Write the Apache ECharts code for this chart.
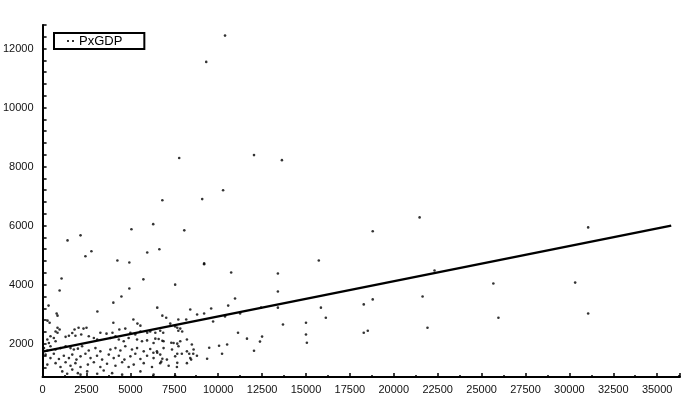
<!DOCTYPE html>
<html><head><meta charset="utf-8">
<script src="https://cdn.jsdelivr.net/npm/echarts@6/dist/echarts.min.js"></script>
<style>html,body{margin:0;padding:0;background:#fff}#c{width:700px;height:403px}</style>
</head><body><div id="c"></div>
<script>
// GDP (x) values of each point
const gdp = [
10390,9320,7780,12040,13630,10280,9090,
6820,6300,5060,8070,1420,2160,2440,2780,4260,4940,5960,6650,1080,5740,7550,4940,
9200,9200,10740,13400,13400,15730,15850,16130,6530,10960,10570,9600,9200,8800,8410,6820,7040,12440,13400,13690,15000,15000,15050,11250,10390,9710,7730,8180,7270,6130,6420,6700,6870,7670,7730,7950,6420,6820,7330,7670,11130,11640,12380,12500,12040,9490,10050,10510,10220,6310,6530,7670,7670,8350,8580,6760,6820,8460,9370,
21470,18800,22320,25670,21640,18800,18290,25960,21920,18290,18520,
31070,30330,31070,
970,4490,4030,340,3120,800,850,280,400,5170,4030,5400,5570,7550,7840,850,970,740,850,2050,2330,1820,2500,3290,3640,3980,4370,4710,5000,5280,5570,5960,
450,640,270,360,740,1310,1500,1690,1870,2200,2630,2920,3110,3860,4150,4340,4620,4900,5380,5660,5950,6320,6610,6890,7460,7840,8220,8500,
80,270,450,740,1020,1310,1590,1780,2010,2250,2630,3010,3290,3860,4150,4430,4710,5090,5380,5760,6130,6510,6890,7370,7740,8220,8600,
170,450,640,930,1210,1500,1690,1930,2160,2440,2730,3100,3390,3770,4050,4340,4660,5000,5280,5570,5950,6320,6700,7080,7550,7930,8410,8790,
270,740,1020,1310,1590,1870,2160,2580,2920,3290,3670,4150,4530,4900,5190,5760,6230,6700,7180,7650,8220,
1120,1400,1690,2010,2160,2540,3110,3480,3960,4530,5570,6320,7550
];
// Px (y) values of each point
const px = [
12440,11550,8290,8390,8220,7200,6900,
6860,6050,5880,5840,5500,5670,4960,5130,4820,4750,5090,5200,4210,4180,4000,3870,
4720,4690,4410,4380,3770,4820,3220,2880,3220,3530,3290,3190,3020,2990,3160,2950,2880,3220,3220,2650,2710,2310,2030,3020,2920,2750,2820,2820,2680,2410,2370,2440,2370,2540,2440,2410,2170,2100,2030,2000,2370,2170,2070,2240,1760,1860,1930,1970,1660,1690,1690,1660,1350,1660,1660,1390,1490,1460,1490,
6280,5810,4480,4040,3600,3500,3330,2880,2540,2370,2440,
5940,4070,3020,
3800,3600,3390,3290,3090,3020,2950,2780,2710,2820,2710,2680,2610,2580,2510,2540,2480,2410,2370,2540,2510,2480,2540,2370,2340,2370,2480,2510,2370,2310,2410,2370,
2250,2190,2140,2020,2080,2230,2270,2360,2270,2310,2250,2190,2140,2190,2250,2140,2080,2190,2140,2080,2110,2020,2160,2080,2020,2080,2140,1970,
1850,1770,1910,1800,1850,1910,1850,1800,1830,1910,1770,1850,1740,1800,1850,1770,1910,1800,1850,1740,1820,1740,1850,1800,1910,1740,1800,
1630,1510,1660,1480,1590,1510,1630,1460,1570,1660,1510,1590,1460,1630,1510,1590,1460,1570,1660,1480,1590,1510,1630,1460,1570,1660,1510,1590,
1290,1340,1210,1370,1250,1340,1210,1290,1370,1210,1320,1250,1370,1210,1290,1340,1210,1340,1250,1210,1340,
1060,980,1120,1000,950,1060,980,1090,1000,950,1060,950,910
];
// regression line end points
const trendX = [0, 35800];
const trendY = [1730, 6000];
// axis labels
const yLabels = [2000, 4000, 6000, 8000, 10000, 12000];

const points = gdp.map((g, i) => [g, px[i]]);
const trend = trendX.map((x, i) => [x, trendY[i]]);
const yTickMarks = [];
for (let v = 1200; v <= 12800; v += 400) yTickMarks.push(v);

const font = 'Liberation Sans';
const chart = echarts.init(document.getElementById('c'));
chart.setOption({
  animation: false,
  backgroundColor: '#fff',
  grid: { left: 41, right: 20, top: 25, bottom: 26, containLabel: false },
  legend: {
    data: ['PxGDP'], left: 54, top: 33,
    borderColor: '#000', borderWidth: 2, borderRadius: 0,
    padding: [1, 22, 1, 13],
    itemWidth: 7, itemHeight: 2,
    icon: 'path://M0 0h2v2h-2zM5 0h2v2h-2z',
    textStyle: { fontSize: 13, fontFamily: font, color: '#000', lineHeight: 14 }
  },
  xAxis: {
    type: 'value', min: 0, max: 36300, interval: 2500,
    splitLine: { show: false },
    axisLine: { show: true, onZero: false, lineStyle: { color: '#000', width: 2 } },
    axisTick: { show: true, inside: true, length: 4, lineStyle: { color: '#000', width: 1.5 } },
    minorTick: { show: true, splitNumber: 2, length: 2, lineStyle: { color: '#000', width: 1.5 } },
    axisLabel: { margin: 7, fontSize: 11, fontFamily: font, color: '#111', showMaxLabel: false,
      formatter: v => String(v) }
  },
  yAxis: {
    type: 'value', min: 870, max: 12800,
    splitLine: { show: false },
    axisLine: { show: true, onZero: false, lineStyle: { color: '#000', width: 2 } },
    axisTick: { show: true, inside: true, length: 4, customValues: yTickMarks, lineStyle: { color: '#000', width: 1.5 } },
    axisLabel: { margin: 9, fontSize: 11, fontFamily: font, color: '#111', customValues: yLabels,
      formatter: v => String(v) }
  },
  series: [
    { name: 'PxGDP', type: 'scatter', data: points, symbol: 'circle', symbolSize: 2.6,
      itemStyle: { color: '#000' }, z: 3 },
    { name: 'trend', type: 'line', data: trend, showSymbol: false, symbol: 'none',
      lineStyle: { color: '#000', width: 2.5 }, itemStyle: { color: '#000' }, z: 2 }
  ]
});
</script>
</body></html>
